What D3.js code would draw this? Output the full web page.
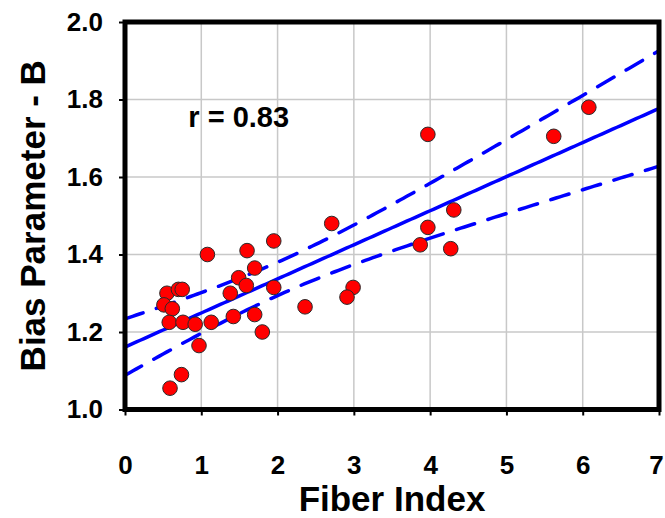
<!DOCTYPE html>
<html>
<head>
<meta charset="utf-8">
<script src="https://cdn.jsdelivr.net/npm/d3@7"></script>
<style>
  body { margin: 0; background: #fff; }
  svg { display: block; font-family: "Liberation Sans", Arial, sans-serif; font-weight: bold; }
</style>
</head>
<body>
<div id="chart"></div>
<script>
// data
var fiberIndex = [0.55, 0.70, 0.75, 0.51, 0.62, 0.58, 0.76, 0.92, 1.13, 0.97, 0.74, 0.59,
                  1.08, 1.38, 1.49, 1.59, 1.42, 1.60, 1.95, 1.70, 1.95, 1.70, 1.80,
                  2.36, 2.71, 2.99, 2.91,
                  3.97, 5.62, 6.08, 4.31, 3.97, 3.87, 4.27];
var biasB = [1.30, 1.31, 1.31, 1.27, 1.26, 1.225, 1.225, 1.22, 1.225, 1.165, 1.09, 1.055,
             1.40, 1.30, 1.34, 1.32, 1.24, 1.41, 1.435, 1.365, 1.315, 1.245, 1.20,
             1.265, 1.48, 1.315, 1.29,
             1.71, 1.705, 1.78, 1.515, 1.47, 1.425, 1.415];
var xTicks = [0, 1, 2, 3, 4, 5, 6, 7];
var yTicks = [1.0, 1.2, 1.4, 1.6, 1.8, 2.0];
var rLabel = "r = 0.83";

var width = 665, height = 518;
var margin = {top: 22, right: 6, bottom: 108.5, left: 125};
var w = width - margin.left - margin.right,
    h = height - margin.top - margin.bottom;

var x = d3.scaleLinear().domain([0, 7]).range([0, w]);
var y = d3.scaleLinear().domain([1, 2]).range([h, 0]);

// least squares fit and 99% confidence band of the mean
var pts = fiberIndex.map(function(d, i) { return [d, biasB[i]]; });
var n = pts.length;
var mx = d3.mean(fiberIndex), my = d3.mean(biasB);
var sxx = d3.sum(fiberIndex, function(d) { return (d - mx) * (d - mx); });
var sxy = d3.sum(pts, function(d) { return (d[0] - mx) * (d[1] - my); });
var slope = sxy / sxx, icpt = my - slope * mx;
var sse = d3.sum(pts, function(d) { var e = d[1] - (icpt + slope * d[0]); return e * e; });
var s = Math.sqrt(sse / (n - 2));
var tval = 2.738; // t(0.995, 32)
var xs = d3.range(0, 7.0001, 0.05);
function band(xv) { return tval * s * Math.sqrt(1 / n + (xv - mx) * (xv - mx) / sxx); }

var svg = d3.select("#chart").append("svg")
    .attr("width", width)
    .attr("height", height);

var g = svg.append("g")
    .attr("transform", "translate(" + margin.left + "," + margin.top + ")");

// grid
g.append("g").selectAll("line")
    .data(xTicks.slice(1, -1))
    .enter().append("line")
    .attr("x1", function(d) { return x(d); }).attr("x2", function(d) { return x(d); })
    .attr("y1", 0).attr("y2", h)
    .style("stroke", "#c8c8c8").style("stroke-width", 1.5);

g.append("g").selectAll("line")
    .data(yTicks.slice(1, -1))
    .enter().append("line")
    .attr("x1", 0).attr("x2", w)
    .attr("y1", function(d) { return y(d); }).attr("y2", function(d) { return y(d); })
    .style("stroke", "#c8c8c8").style("stroke-width", 1.5);

// fit lines
var line = d3.line()
    .x(function(d) { return x(d[0]); })
    .y(function(d) { return y(d[1]); });

g.append("path")
    .attr("d", line(xs.map(function(v) { return [v, icpt + slope * v]; })))
    .style("fill", "none").style("stroke", "#0000ff").style("stroke-width", 3.5);

[1, -1].forEach(function(sign) {
  g.append("path")
    .attr("d", line(xs.map(function(v) { return [v, icpt + slope * v + sign * band(v)]; })))
    .style("fill", "none").style("stroke", "#0000ff").style("stroke-width", 3.5)
    .style("stroke-linecap", "round")
    .style("stroke-dasharray", "19,14");
});

// points
g.selectAll("circle")
    .data(pts)
    .enter().append("circle")
    .attr("cx", function(d) { return x(d[0]); })
    .attr("cy", function(d) { return y(d[1]); })
    .attr("r", 7.3)
    .style("fill", "#ff0000")
    .style("stroke", "#2a2a2a")
    .style("stroke-width", 1);

// AXIS
var yAxis = g.append("g")
    .call(d3.axisLeft(y).tickValues(yTicks).tickFormat(d3.format(".1f")).tickSize(6).tickPadding(16));
var xAxis = g.append("g")
    .attr("transform", "translate(0," + h + ")")
    .call(d3.axisBottom(x).tickValues(xTicks).tickFormat(d3.format("d")).tickSize(6).tickPadding(40));

[yAxis, xAxis].forEach(function(a) {
  a.select(".domain").remove();
  a.selectAll(".tick line").style("stroke", "#000").style("stroke-width", 2);
  a.selectAll(".tick text")
    .style("font-family", "'Liberation Sans', Arial, sans-serif")
    .style("font-weight", "bold")
    .style("font-size", "26px")
    .style("fill", "#000");
});
xAxis.selectAll(".tick text").filter(function(d) { return d === 7; }).attr("dx", "-3");

// frame
g.append("rect")
    .attr("width", w).attr("height", h)
    .style("fill", "none").style("stroke", "#000").style("stroke-width", 5);

// r label
g.append("text")
    .attr("x", x(0.83))
    .attr("y", y(1.73))
    .style("font-size", "29px")
    .text(rLabel);

// AXIS LABLE
svg.append("text")
    .attr("x", margin.left + w / 2)
    .attr("y", 511)
    .style("text-anchor", "middle")
    .style("font-size", "35px")
    .text("Fiber Index");

svg.append("text")
    .attr("transform", "translate(45," + (margin.top + h / 2) + ") rotate(-90)")
    .style("text-anchor", "middle")
    .style("font-size", "35px")
    .text("Bias Parameter - B");
</script>
</body>
</html>
